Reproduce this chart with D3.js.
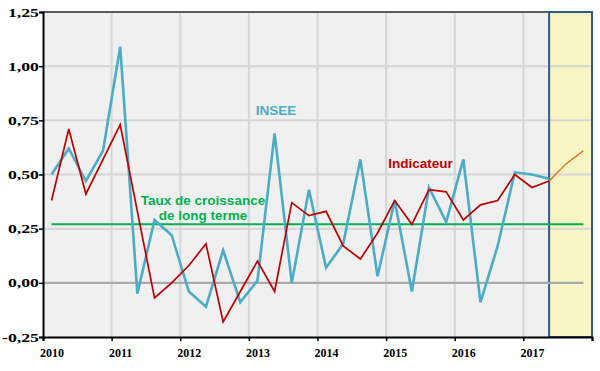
<!DOCTYPE html>
<html><head><meta charset="utf-8">
<script src="https://cdn.jsdelivr.net/npm/d3@7"></script>
<style>
body{margin:0;background:#fff;}
svg{display:block;}
</style></head>
<body>
<svg id="chart" width="600" height="371"></svg>
<script>
// ---- data ----
const years = [2010, 2011, 2012, 2013, 2014, 2015, 2016, 2017, 2018];
const yTicks = [-0.25, 0, 0.25, 0.5, 0.75, 1.0, 1.25];
const quarterOffsets = [0.125, 0.375, 0.625, 0.875];
const insee = [
  0.50, 0.62, 0.47, 0.61,
  1.09, -0.05, 0.29, 0.22,
  -0.04, -0.11, 0.15, -0.09,
  0.01, 0.69, 0.00, 0.43,
  0.07, 0.18, 0.57, 0.03,
  0.38, -0.04, 0.44, 0.28,
  0.57, -0.09, 0.17, 0.51,
  0.50, 0.48
];
const indicateur = [
  0.38, 0.71, 0.41, 0.57,
  0.73, 0.33, -0.07, 0.00,
  0.08, 0.18, -0.18, -0.04,
  0.10, -0.04, 0.37, 0.31,
  0.33, 0.17, 0.11, 0.23,
  0.38, 0.27, 0.43, 0.42,
  0.29, 0.36, 0.38, 0.50,
  0.44, 0.47
];
const prevision = [0.47, 0.55, 0.61]; // 2017T2 (join) .. 2017T4
const longTerme = 0.27;
const forecastStart = 2017.375;

// ---- layout ----
const svg = d3.select("#chart");
const L = 43, R = 592, T = 12, B = 337;
const x = d3.scaleLinear().domain([2010, 2018]).range([L, R]);
const y = d3.scaleLinear().domain([-0.25, 1.25]).range([B, T]);
const tq = i => 2010 + Math.floor(i / 4) + quarterOffsets[i % 4];

// background
svg.append("rect").attr("x", L).attr("y", T).attr("width", R - L).attr("height", B - T).attr("fill", "#f0f0f0");
// forecast box fill
svg.append("rect").attr("x", x(forecastStart)).attr("y", y(1.25)).attr("width", x(2018) - x(forecastStart))
  .attr("height", y(-0.25) - y(1.25)).attr("fill", "#f8f5c4");

// gridlines
svg.append("g").selectAll("line").data(yTicks.filter(v => v !== 0 && v !== -0.25)).join("line")
  .attr("x1", L).attr("x2", R).attr("y1", d => y(d)).attr("y2", d => y(d))
  .attr("stroke", "#d6d6d6").attr("stroke-width", 2);
svg.append("g").selectAll("line").data(years.filter(v => v > 2010 && v < forecastStart)).join("line")
  .attr("x1", d => x(d)).attr("x2", d => x(d)).attr("y1", T).attr("y2", B)
  .attr("stroke", "#d6d6d6").attr("stroke-width", 2);
// top border
svg.append("line").attr("x1", L).attr("x2", R).attr("y1", T).attr("y2", T).attr("stroke", "#333").attr("stroke-width", 1.5);

// forecast box border
svg.append("rect").attr("x", x(forecastStart)).attr("y", y(1.25)).attr("width", x(2018) - x(forecastStart))
  .attr("height", y(-0.25) - y(1.25)).attr("fill", "none").attr("stroke", "#2f5a8c").attr("stroke-width", 2);

// zero line
svg.append("line").attr("x1", L).attr("x2", x(tq(31))).attr("y1", y(0)).attr("y2", y(0))
  .attr("stroke", "#aaaaaa").attr("stroke-width", 2.2);
// long term growth
svg.append("line").attr("x1", x(tq(0))).attr("x2", x(tq(31))).attr("y1", y(longTerme)).attr("y2", y(longTerme))
  .attr("stroke", "#00b050").attr("stroke-width", 2);

const line = d3.line().x(d => x(d[0])).y(d => y(d[1]));
svg.append("path").datum(insee.map((v, i) => [tq(i), v])).attr("d", line)
  .attr("fill", "none").attr("stroke", "#4bacc6").attr("stroke-width", 2.6).attr("stroke-linejoin", "miter");
svg.append("path").datum(indicateur.map((v, i) => [tq(i), v])).attr("d", line)
  .attr("fill", "none").attr("stroke", "#c00000").attr("stroke-width", 1.7);
svg.append("path").datum(prevision.map((v, i) => [tq(29 + i), v])).attr("d", line)
  .attr("fill", "none").attr("stroke", "#e46c0a").attr("stroke-width", 1.3);

// labels
const lab = (t, cx, cy, col) => svg.append("text").attr("x", cx).attr("y", cy).attr("text-anchor", "middle")
  .attr("dominant-baseline", "central").attr("fill", col)
  .style("font", "bold 13.5px 'Liberation Sans', Arial, sans-serif").text(t);
lab("INSEE", 276, 110.5, "#4bacc6");
lab("Indicateur", 420.5, 163, "#c00000");
lab("Taux de croissance", 203, 200, "#00b050");
lab("de long terme", 203, 215.5, "#00b050");

// axes
const fr = d3.formatLocale({decimal: ",", thousands: " ", grouping: [3], currency: ["", "€"], minus: "-"});
const yAxis = d3.axisLeft(y).tickValues(yTicks).tickFormat(fr.format(".2f")).tickSize(4).tickPadding(4);
const gy = svg.append("g").attr("transform", `translate(${L},0)`).call(yAxis);
gy.select(".domain").attr("stroke", "#000").attr("stroke-width", 2);
gy.selectAll(".tick line").attr("stroke", "#000").attr("stroke-width", 1.5);
gy.selectAll(".tick text").each(function() {
  const t = d3.select(this);
  t.attr("x", null).attr("transform", "translate(-4,0) scale(1.42,1)");
}).attr("fill", "#000").style("font", "bold 12.5px 'Liberation Serif', 'Times New Roman', serif");

const xAxis = d3.axisBottom(x).tickValues(years).tickFormat((d, i) => i < years.length - 1 ? d3.format("d")(d) : "").tickSize(4).tickPadding(7);
const gx = svg.append("g").attr("transform", `translate(0,${B})`).call(xAxis);
gx.select(".domain").attr("stroke", "#000").attr("stroke-width", 2);
gx.selectAll(".tick line").attr("stroke", "#000").attr("stroke-width", 1.5);
gx.selectAll(".tick text").attr("dx", 8.5).attr("fill", "#000")
  .style("font", "bold 12px 'Liberation Serif', 'Times New Roman', serif");
</script>
</body></html>
